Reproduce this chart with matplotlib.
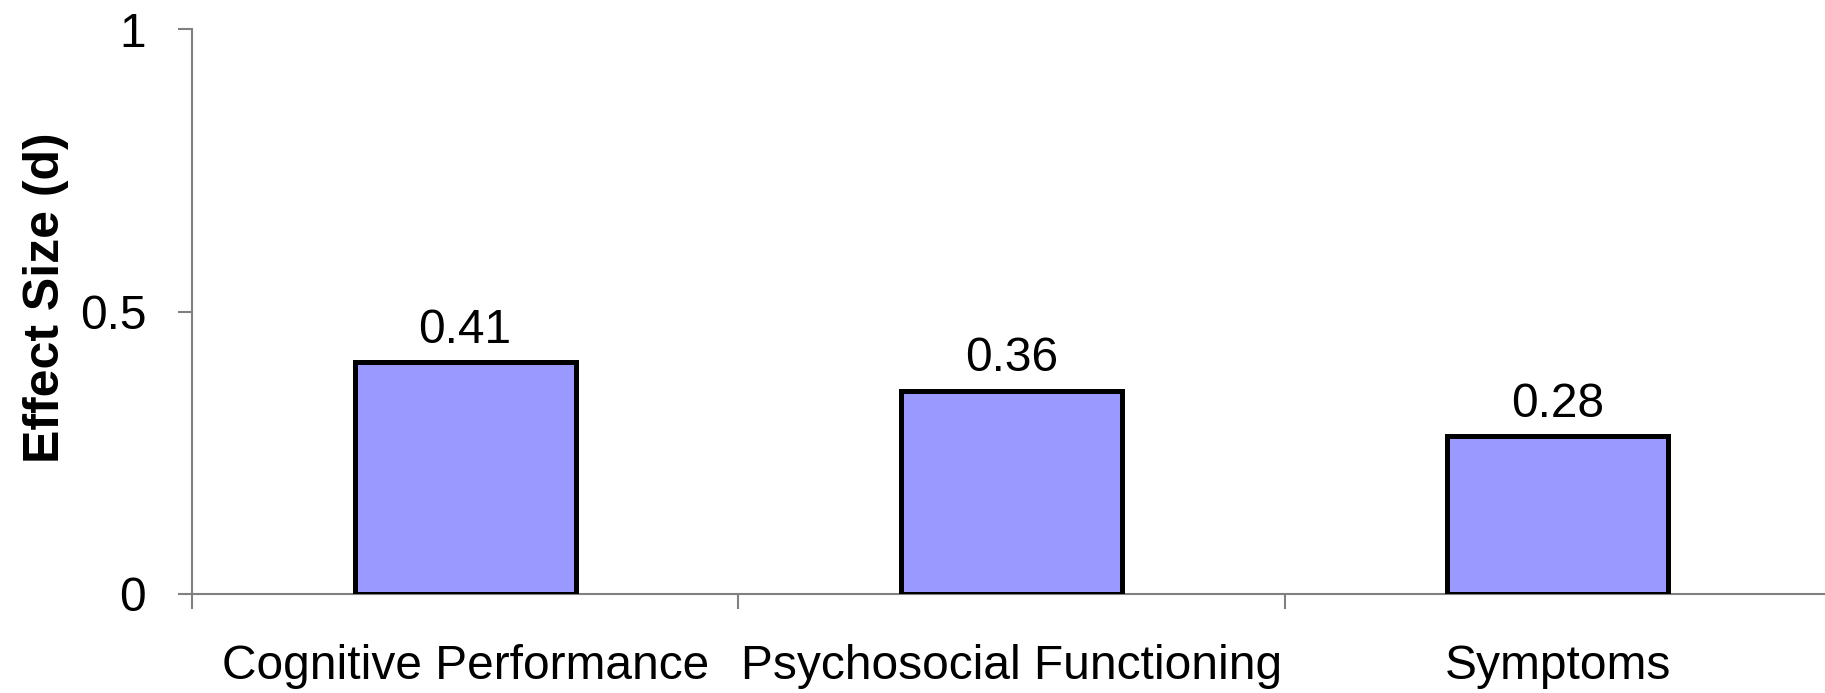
import matplotlib.pyplot as plt
import numpy as np

categories = ['Cognitive Performance', 'Psychosocial Functioning', 'Symptoms']
effect_sizes = [0.41, 0.36, 0.28]
value_labels = ['0.41', '0.36', '0.28']
y_ticks = [0, 0.5, 1]
y_tick_labels = ['0', '0.5', '1']

plt.rcParams['font.family'] = ['Liberation Sans', 'DejaVu Sans']
fs = 34.5

fig = plt.figure(figsize=(18.25, 6.93), dpi=100)
ax = fig.add_axes([0.1052, 0.1429, 0.898, 0.815])

x = np.arange(len(categories))
ax.bar(x, effect_sizes, width=0.405, color='#9999ff', edgecolor='black', linewidth=3.6, zorder=3)

for xi, val, lab in zip(x, effect_sizes, value_labels):
    ax.text(xi, val + 0.034, lab, ha='center', va='baseline', fontsize=fs)

ax.set_xlim(-0.5, len(categories) - 0.5)
ax.set_ylim(0, 1)

# category boundaries get the tick marks, names sit in between
ax.set_xticks(np.arange(-0.5, len(categories)), labels=[''] * (len(categories) + 1))
ax.set_xticks(x, labels=categories, minor=True)
ax.tick_params(axis='x', which='major', length=11, width=1.5, color='#808080', direction='out')
ax.tick_params(axis='x', which='minor', length=0, pad=36, labelsize=fs)

ax.set_yticks(y_ticks, labels=y_tick_labels)
ax.tick_params(axis='y', length=10, width=1.5, color='#808080', pad=23, labelsize=fs)

ax.set_ylabel('Effect Size (d)', fontsize=36, fontweight='bold')
ax.yaxis.set_label_coords(-0.075, 0.524)

for side in ['top', 'right']:
    ax.spines[side].set_visible(False)
for side in ['left', 'bottom']:
    ax.spines[side].set_color('#808080')
    ax.spines[side].set_linewidth(1.5)

plt.savefig('out.png', dpi=100)
